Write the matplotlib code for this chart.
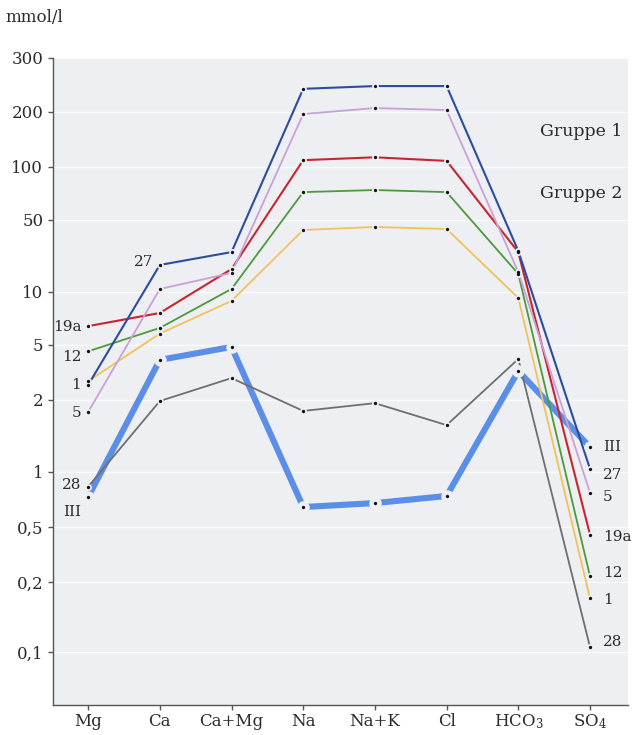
import numpy as np
import matplotlib
matplotlib.use('Agg')
import matplotlib.pyplot as plt
from matplotlib.ticker import FixedLocator, FixedFormatter

plt.rcParams['font.family'] = ['DejaVu Serif']
plt.rcParams['mathtext.fontset'] = 'dejavuserif'

# categories on the x axis
ions = ['Mg', 'Ca', 'Ca+Mg', 'Na', 'Na+K', 'Cl', 'HCO$_3$', 'SO$_4$']

# concentrations in mmol/l
s27 = [2.57, 18.3, 24.4, 238, 243, 243, 25.0, 1.03]
s5 = [1.78, 10.7, 15.3, 195, 206, 203, 15.6, 0.77]
s19a = [6.4, 7.6, 16.7, 109, 113, 108, 24.4, 0.44]
s12 = [4.5, 6.25, 10.7, 72, 74, 72, 15.0, 0.22]
s1 = [2.74, 5.8, 8.9, 40.0, 42.8, 40.9, 9.25, 0.17]
s28 = [0.83, 1.98, 2.88, 1.80, 1.94, 1.57, 3.96, 0.105]
sIII = [0.73, 3.9, 4.84, 0.643, 0.676, 0.739, 3.24, 1.27]

# the printed axis is not a clean log scale: tick value -> height above axis bottom
yticks = [0.1, 0.2, 0.5, 1, 2, 5, 10, 50, 100, 200, 300]
ytick_labels = ['0,1', '0,2', '0,5', '1', '2', '5', '10', '50', '100', '200', '300']
scale_vals = [0.06] + yticks
scale_pos = [0, 53, 123, 178, 233, 305, 360, 413, 485, 538, 593, 647]

lv = np.log10(scale_vals)


def fwd(v):
    v = np.clip(np.asarray(v, dtype=float), 1e-6, None)
    return np.interp(np.log10(v), lv, scale_pos)


def inv(h):
    return 10 ** np.interp(np.asarray(h, dtype=float), scale_pos, lv)


bg = '#eeeff3'
txt = '#2b2b2b'

fig = plt.figure(figsize=(6.4, 7.35), dpi=100)
ax = fig.add_axes([53 / 640, 30 / 735, 575 / 640, 647 / 735])
ax.set_facecolor(bg)
ax.set_yscale('function', functions=(fwd, inv))
ax.set_ylim(0.06, 300)
ax.set_xlim(-0.49, 7.53)

x = np.arange(len(ions))

series = [
    (sIII, '#5b8ee6', 4.4, 2),
    (s28, '#6f6f6f', 1.3, 3),
    (s1, '#f0c25a', 1.3, 3),
    (s12, '#4c9a3c', 1.3, 3),
    (s19a, '#c7262f', 1.5, 3),
    (s5, '#c7a2d6', 1.3, 3),
    (s27, '#2c4c9e', 1.5, 3),
]
for vals, col, lw, z in series:
    ax.plot(x, vals, color=col, lw=lw, solid_capstyle='round', zorder=z)

# small gaps round the dots, then the dots
for vals, col, lw, z in series:
    ms = 9 if lw > 3 else 5
    ax.plot(x, vals, 'o', ms=ms, color=bg, mew=0, zorder=5)
for vals, col, lw, z in series:
    ax.plot(x, vals, 'o', ms=2.4, color='#111111', mew=0, zorder=6)

# series labels
left = [('19a', s19a, 0, -1), ('12', s12, 0, -6), ('1', s1, 0, -4),
        ('5', s5, 0, -1), ('28', s28, 0, 2), ('III', sIII, 0, -15),
        ('27', s27, 1, 3)]
for name, vals, i, dy in left:
    ax.annotate(name, (x[i], vals[i]), xytext=(-7, dy), textcoords='offset pixels',
                ha='right', va='center', fontsize=11, color=txt, zorder=7)

right = [('III', sIII, 0), ('27', s27, -6), ('5', s5, -4), ('19a', s19a, -2),
         ('12', s12, 3), ('1', s1, -2), ('28', s28, 5)]
for name, vals, dy in right:
    ax.annotate(name, (x[7], vals[7]), xytext=(13, dy), textcoords='offset pixels',
                ha='left', va='center', fontsize=11, color=txt, zorder=7)

ax.text(0.847, 0.886, 'Gruppe 1', transform=ax.transAxes, fontsize=12.5,
        color=txt, va='center')
ax.text(0.847, 0.791, 'Gruppe 2', transform=ax.transAxes, fontsize=12.5,
        color=txt, va='center')
fig.text(5 / 640, 1 - 18 / 735, 'mmol/l', fontsize=12, color=txt, va='center')

# axes styling
ax.yaxis.set_major_locator(FixedLocator(yticks))
ax.yaxis.set_major_formatter(FixedFormatter(ytick_labels))
ax.yaxis.set_minor_locator(FixedLocator([]))
ax.set_xticks(x)
ax.set_xticklabels(ions)
ax.tick_params(axis='both', labelsize=12, labelcolor=txt, color='#555555',
               length=3.5, width=1, direction='out')
ax.tick_params(axis='x', pad=2)
ax.tick_params(axis='y', pad=3.5)
for side in ['top', 'right']:
    ax.spines[side].set_visible(False)
for side in ['left', 'bottom']:
    ax.spines[side].set_color('#555555')
    ax.spines[side].set_linewidth(1)
ax.grid(axis='y', color='white', lw=1.0, alpha=0.8, zorder=0)
ax.set_axisbelow(True)

fig.savefig('out.png', dpi=100)
